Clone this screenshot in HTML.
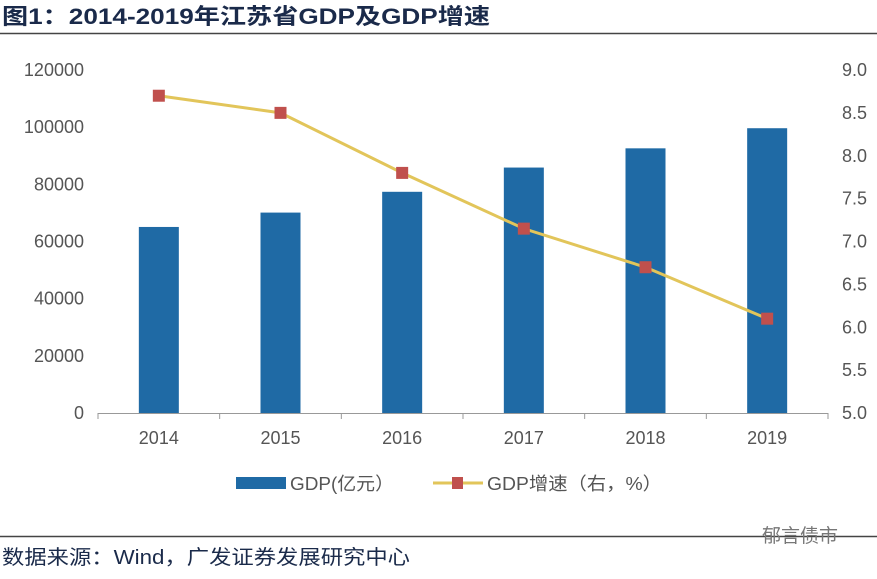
<!DOCTYPE html>
<html><head><meta charset="utf-8"><style>
body{margin:0;background:#fff;width:877px;height:574px;overflow:hidden;font-family:"Liberation Sans","Noto Sans CJK SC",sans-serif;}
svg text{font-family:"Liberation Sans","Noto Sans CJK SC",sans-serif;}
</style></head><body>
<svg id="c" width="877" height="574" xmlns="http://www.w3.org/2000/svg">
<text x="2" y="24" font-size="22" font-weight="bold" fill="#1a2a4a" textLength="488" lengthAdjust="spacingAndGlyphs">图1：2014-2019年江苏省GDP及GDP增速</text>
<line x1="0" y1="33.5" x2="877" y2="33.5" stroke="#444" stroke-width="1.5"/>
<g id="plot"></g>
<g>
<rect x="236" y="477" width="50" height="12" fill="#1f6aa5"/>
<text x="290" y="490" font-size="18" fill="#555" textLength="104" lengthAdjust="spacingAndGlyphs">GDP(亿元）</text>
<line x1="433" y1="483" x2="483" y2="483" stroke="#e2c55a" stroke-width="3"/>
<rect x="452" y="477" width="11" height="12" fill="#c0504d"/>
<text x="487" y="490" font-size="18" fill="#555" textLength="175" lengthAdjust="spacingAndGlyphs">GDP增速（右，%）</text>
</g>
<line x1="0" y1="536.5" x2="877" y2="536.5" stroke="#444" stroke-width="1.5"/>
<text x="2" y="564" font-size="20" fill="#1a2a4a" textLength="408" lengthAdjust="spacingAndGlyphs">数据来源：Wind，广发证券发展研究中心</text>
<text x="762" y="542" font-size="19" fill="#777">郁言债市</text>
</svg>
<script>
const categories=["2014","2015","2016","2017","2018","2019"];
const gdpValues=[65088,70116,77388,85870,92595,99632];
const growthValues=[8.7,8.5,7.8,7.15,6.7,6.1];
const leftTicks=[0,20000,40000,60000,80000,100000,120000];
const rightTicks=[5.0,5.5,6.0,6.5,7.0,7.5,8.0,8.5,9.0];
const NS="http://www.w3.org/2000/svg";
const g=document.getElementById('plot');
const x0=98,x1=828,yb=413,yt=70;
const yL=v=>yb-(v-0)/120000*(yb-yt);
const yR=v=>yb-(v-5)/4*(yb-yt);
const bw=(x1-x0)/categories.length;
const xc=i=>x0+bw*(i+0.5);
function mk(t,a){const e=document.createElementNS(NS,t);for(const k in a)e.setAttribute(k,a[k]);g.appendChild(e);return e;}
leftTicks.forEach(v=>{const e=mk('text',{x:84,y:yL(v)+6,'font-size':18,fill:'#555','text-anchor':'end'});e.textContent=v;

});
rightTicks.forEach(v=>{const e=mk('text',{x:842,y:yR(v)+6,'font-size':18,fill:'#555'});e.textContent=v.toFixed(1);

});
gdpValues.forEach((v,i)=>{const e=mk('rect',{x:xc(i)-20,y:yL(v),width:40,height:yb-yL(v),fill:'#1f6aa5'});

});
const ax=mk('line',{x1:x0,y1:yb+0.5,x2:x1,y2:yb+0.5,stroke:'#999'});


for(let i=0;i<=categories.length;i++){const t=mk('line',{x1:x0+bw*i,y1:yb,x2:x0+bw*i,y2:yb+6,stroke:'#999'});

}
categories.forEach((c,i)=>{const e=mk('text',{x:xc(i),y:444,'font-size':18,fill:'#555','text-anchor':'middle'});e.textContent=c;

});
const pl=mk('polyline',{points:growthValues.map((v,i)=>xc(i)+','+yR(v)).join(' '),fill:'none',stroke:'#e2c55a','stroke-width':3});


growthValues.forEach((v,i)=>{const e=mk('rect',{x:xc(i)-6,y:yR(v)-6,width:12,height:12,fill:'#c0504d'});

});
</script>
</body></html>
